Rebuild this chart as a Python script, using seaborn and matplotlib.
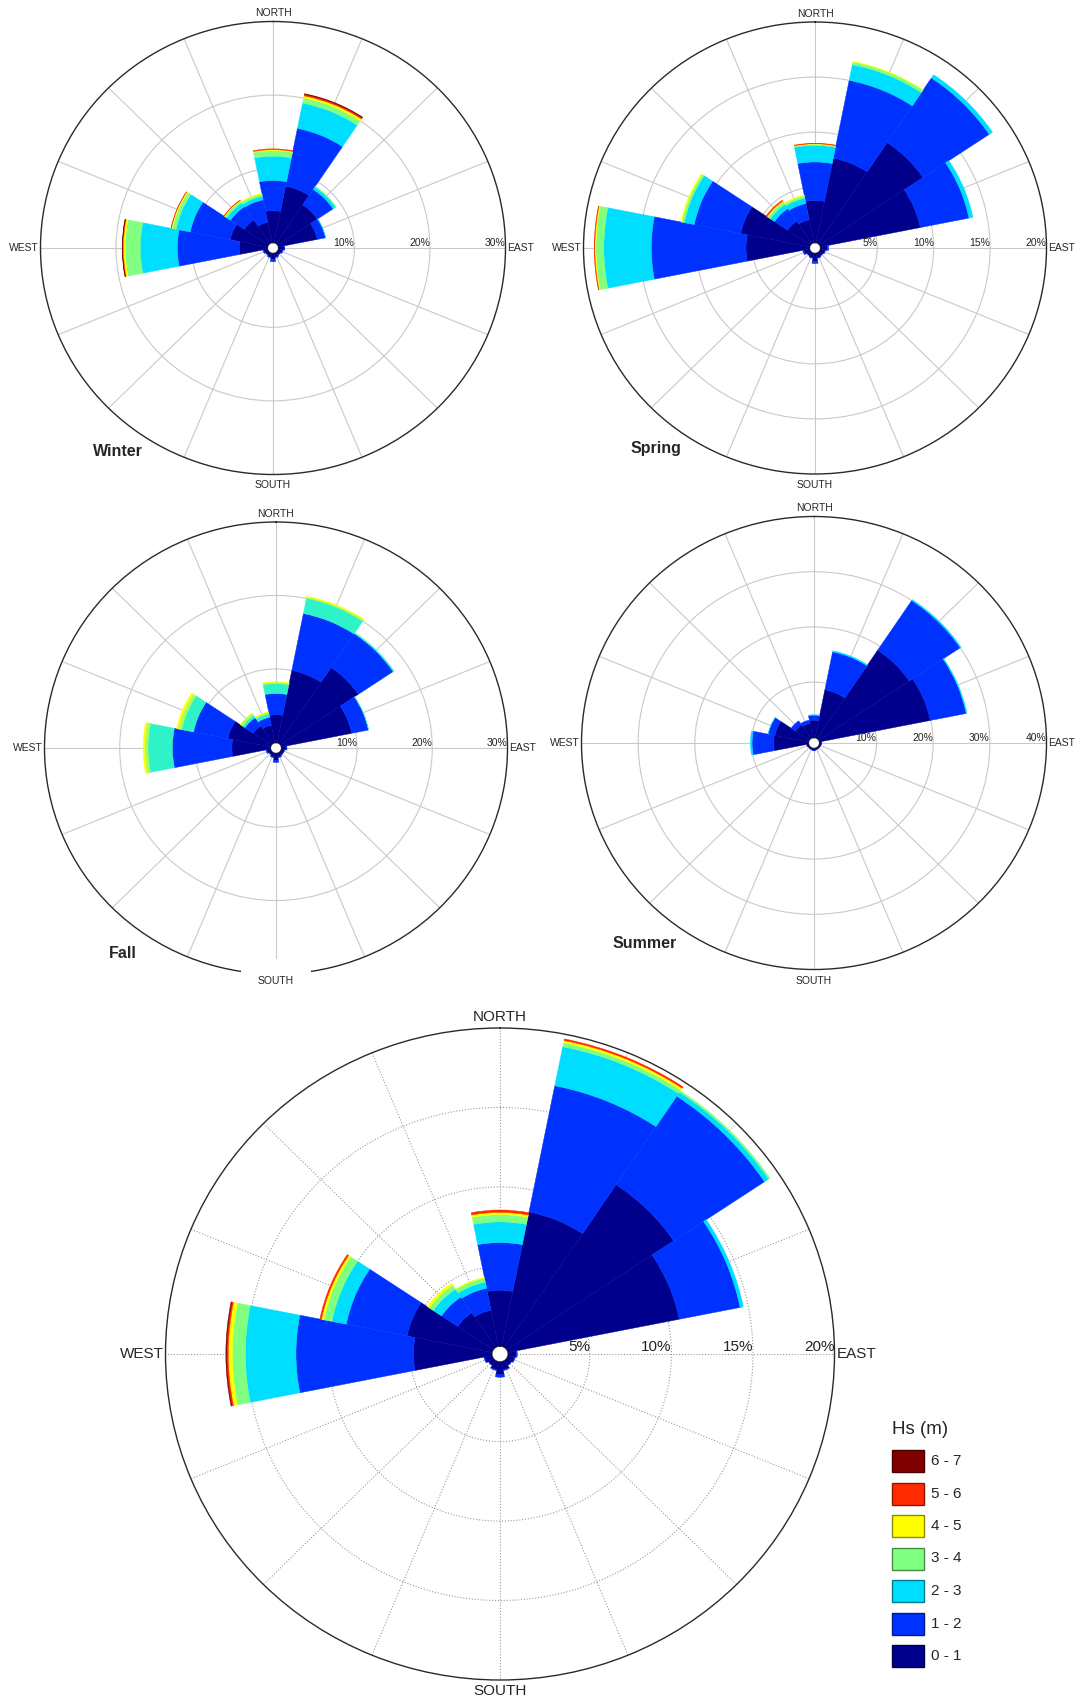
import numpy as np
import matplotlib
matplotlib.use("Agg")
import matplotlib.pyplot as plt
from matplotlib.patches import Rectangle
from matplotlib.colors import to_rgb
import seaborn as sns

# ---------------------------------------------------------------- data
DIRECTIONS = ["N", "NNE", "NE", "ENE", "E", "ESE", "SE", "SSE",
              "S", "SSW", "SW", "WSW", "W", "WNW", "NW", "NNW"]
HS_CLASSES = ["0 - 1", "1 - 2", "2 - 3", "3 - 4", "4 - 5", "5 - 6", "6 - 7"]
HS_COLORS = ["#00008C", "#0032FF", "#00DEFF", "#80FF80", "#FFFF00", "#FF2A00", "#800000"]
FALL_COLORS = ["#00008C", "#0032FF", "#2EF2C8", "#A8FF5A", "#FFFF00", "#FF2A00", "#800000"]

# occurrence frequency (%) per direction; one row per Hs class (0-1 ... 6-7 m)
WINTER = [
    [4.3, 7.8, 6.3, 5.2, 0.7, 0.5, 0.4, 0.5, 0.8, 0.5, 0.4, 0.5, 3.7, 5.0, 3.8, 2.8],
    [4.1, 8.0, 2.5, 1.1, 0.1, 0.1, 0.0, 0.1, 0.3, 0.1, 0.0, 0.1, 8.2, 5.4, 2.2, 3.1],
    [3.3, 3.5, 0.4, 0.05, 0, 0, 0, 0, 0, 0, 0, 0, 4.9, 1.9, 0.6, 0.5],
    [0.75, 0.7, 0.1, 0, 0, 0, 0, 0, 0, 0, 0, 0, 2.0, 0.5, 0.3, 0.3],
    [0.15, 0.3, 0, 0, 0, 0, 0, 0, 0, 0, 0, 0, 0.25, 0.15, 0.1, 0.1],
    [0.1, 0.2, 0, 0, 0, 0, 0, 0, 0, 0, 0, 0, 0.1, 0.05, 0.05, 0],
    [0, 0.1, 0, 0, 0, 0, 0, 0, 0, 0, 0, 0, 0.05, 0, 0, 0],
]
SPRING = [
    [3.8, 7.8, 11.0, 9.0, 0.6, 0.4, 0.35, 0.4, 0.7, 0.4, 0.35, 0.5, 5.6, 6.2, 2.4, 2.1],
    [3.5, 7.2, 7.05, 4.4, 0.1, 0.05, 0, 0.05, 0.2, 0.05, 0, 0.1, 8.4, 4.2, 1.4, 1.5],
    [1.5, 1.45, 0.35, 0.35, 0, 0, 0, 0, 0, 0, 0, 0, 4.2, 0.9, 0.45, 0.5],
    [0.1, 0.25, 0, 0, 0, 0, 0, 0, 0, 0, 0, 0, 0.7, 0.2, 0.25, 0.2],
    [0.05, 0.05, 0, 0, 0, 0, 0, 0, 0, 0, 0, 0, 0.1, 0.1, 0.1, 0.1],
    [0.05, 0, 0, 0, 0, 0, 0, 0, 0, 0, 0, 0, 0.05, 0, 0.1, 0],
    [0, 0, 0, 0, 0, 0, 0, 0, 0, 0, 0, 0, 0, 0, 0, 0],
]
FALL = [
    [3.75, 10.0, 12.4, 9.5, 0.6, 0.4, 0.4, 0.5, 0.9, 0.5, 0.35, 0.5, 5.1, 5.75, 2.85, 2.4],
    [2.9, 7.9, 5.55, 2.25, 0.1, 0, 0, 0.1, 0.3, 0.1, 0, 0.1, 7.9, 4.65, 1.35, 1.1],
    [1.35, 2.1, 0.15, 0.05, 0, 0, 0, 0, 0, 0, 0, 0, 3.25, 1.6, 0.4, 0.5],
    [0.2, 0.2, 0, 0, 0, 0, 0, 0, 0, 0, 0, 0, 0.45, 0.45, 0.3, 0.2],
    [0.05, 0.1, 0, 0, 0, 0, 0, 0, 0, 0, 0, 0, 0.2, 0.25, 0.05, 0.05],
    [0, 0, 0, 0, 0, 0, 0, 0, 0, 0, 0, 0, 0, 0, 0, 0],
    [0, 0, 0, 0, 0, 0, 0, 0, 0, 0, 0, 0, 0, 0, 0, 0],
]
SUMMER = [
    [3.1, 8.8, 19.2, 19.9, 0.35, 0.25, 0.2, 0.25, 0.35, 0.25, 0.2, 0.3, 6.1, 6.0, 2.9, 2.6],
    [0.9, 7.0, 10.8, 6.45, 0, 0, 0, 0, 0.05, 0, 0, 0, 3.8, 1.2, 0.9, 0.6],
    [0.1, 0.2, 0.2, 0.15, 0, 0, 0, 0, 0, 0, 0, 0, 0.3, 0.05, 0, 0],
    [0, 0, 0, 0, 0, 0, 0, 0, 0, 0, 0, 0, 0, 0, 0, 0],
    [0, 0, 0, 0, 0, 0, 0, 0, 0, 0, 0, 0, 0, 0, 0, 0],
    [0, 0, 0, 0, 0, 0, 0, 0, 0, 0, 0, 0, 0, 0, 0, 0],
    [0, 0, 0, 0, 0, 0, 0, 0, 0, 0, 0, 0, 0, 0, 0, 0],
]
ANNUAL = [
    [3.5, 8.6, 12.3, 10.7, 0.5, 0.4, 0.35, 0.5, 0.8, 0.5, 0.35, 0.45, 4.8, 5.3, 2.6, 2.3],
    [3.0, 8.1, 6.7, 3.8, 0.05, 0.05, 0, 0.05, 0.15, 0.05, 0, 0.05, 7.2, 3.8, 1.2, 1.4],
    [1.3, 2.5, 0.3, 0.2, 0, 0, 0, 0, 0, 0, 0, 0, 3.1, 0.9, 0.6, 0.4],
    [0.45, 0.25, 0.1, 0, 0, 0, 0, 0, 0, 0, 0, 0, 0.8, 0.5, 0.3, 0.25],
    [0.15, 0.15, 0, 0, 0, 0, 0, 0, 0, 0, 0, 0, 0.25, 0.15, 0.15, 0.05],
    [0.15, 0.1, 0, 0, 0, 0, 0, 0, 0, 0, 0, 0, 0.1, 0.1, 0, 0],
    [0, 0, 0, 0, 0, 0, 0, 0, 0, 0, 0, 0, 0.05, 0, 0, 0],
]

# ---------------------------------------------------------------- style
sns.set_theme(style="white")
plt.rcParams["font.family"] = ["Liberation Sans", "DejaVu Sans"]

W_PX, H_PX = 1086, 1702
fig = plt.figure(figsize=(W_PX / 100, H_PX / 100), dpi=100)
fig.patch.set_facecolor("white")

HOLE_FRAC = 0.025
THETA = np.deg2rad(np.arange(len(DIRECTIONS)) * 22.5)
SECTOR = np.deg2rad(22.5)


def px_rect(cx, cy, rx, ry):
    return [(cx - rx) / W_PX, 1 - (cy + ry) / H_PX, 2 * rx / W_PX, 2 * ry / H_PX]


def draw_rose(center, rx, ry, data, vmax, step, colors, fs, big=False):
    ax = fig.add_axes(px_rect(center[0], center[1], rx, ry), projection="polar")
    ax.set_aspect("auto")
    ax.set_theta_zero_location("N")
    ax.set_theta_direction(-1)
    ax.set_ylim(0, vmax)
    ax.set_rorigin(-HOLE_FRAC * vmax / (1 - HOLE_FRAC))
    ax.set_facecolor("white")

    pal = sns.color_palette(colors)
    bottom = np.zeros(len(DIRECTIONS))
    for vals, col in zip(data, pal):
        vals = np.asarray(vals, dtype=float)
        m = vals > 0
        if m.any():
            ax.bar(THETA[m], vals[m], width=SECTOR, bottom=bottom[m], color=col,
                   edgecolor=col, linewidth=0.3, align="center", zorder=3)
        bottom += vals

    rings = np.arange(step, vmax + 0.001, step)
    ax.set_xticks(THETA)
    ax.set_xticklabels([])
    ax.set_yticks(rings[:-1])
    ax.set_yticklabels([])
    ax.tick_params(length=0, pad=0)
    if big:
        ax.grid(True, color="#9a9a9a", linestyle=(0, (1, 1.6)), linewidth=0.8)
    else:
        ax.grid(True, color="#c9c9c9", linestyle="-", linewidth=0.8)
    ax.set_axisbelow(True)
    ax.spines["polar"].set_color("#2a2a2a")
    ax.spines["polar"].set_linewidth(1.0)
    for k in ("inner", "start", "end"):
        if k in ax.spines:
            ax.spines[k].set_visible(False)

    for v in rings:
        ax.annotate(f"{v:g}%", xy=(np.pi / 2, v), xytext=(0, 0), textcoords="offset points",
                    ha="right", va="bottom", fontsize=fs, color="#222222",
                    annotation_clip=False, zorder=5)

    off = 3 if big else 2.5
    ax.annotate("NORTH", xy=(0, vmax), xytext=(0, off), textcoords="offset points",
                ha="center", va="bottom", fontsize=fs, annotation_clip=False)
    ax.annotate("EAST", xy=(np.pi / 2, vmax), xytext=(1.5, 0), textcoords="offset points",
                ha="left", va="center", fontsize=fs, annotation_clip=False)
    ax.annotate("WEST", xy=(3 * np.pi / 2, vmax), xytext=(-1, 0), textcoords="offset points",
                ha="right", va="center", fontsize=fs, annotation_clip=False)
    return ax


# seasonal roses
ax_w = draw_rose((273, 248), 232.5, 226.5, WINTER, 30, 10, HS_COLORS, 7.5)
ax_s = draw_rose((815, 248), 231.5, 226.0, SPRING, 20, 5, HS_COLORS, 7.5)
ax_f = draw_rose((276, 748), 231.5, 226.0, FALL, 30, 10, FALL_COLORS, 7.5)
ax_u = draw_rose((814, 743), 232.5, 226.5, SUMMER, 40, 10, HS_COLORS, 7.5)
# annual rose
ax_a = draw_rose((500, 1354), 334.5, 326.0, ANNUAL, 20, 5, HS_COLORS, 11, big=True)


def fig_text(x, y, s, **kw):
    return fig.text(x / W_PX, 1 - y / H_PX, s, **kw)


# SOUTH labels
for (cx, cy, ry) in [(273, 248, 226.5), (815, 248, 226.0), (814, 743, 226.5)]:
    fig_text(cx, cy + ry + 11, "SOUTH", ha="center", va="center", fontsize=7.5)
fig_text(276, 981, "SOUTH", ha="center", va="center", fontsize=7.5, zorder=10,
         bbox=dict(facecolor="white", edgecolor="none", boxstyle="square,pad=1.6"))
fig_text(500, 1691, "SOUTH", ha="center", va="center", fontsize=11)

# season titles
for x, y, s in [(118, 451, "Winter"), (656, 448, "Spring"),
                (123, 953, "Fall"), (645, 943, "Summer")]:
    fig_text(x, y, s, ha="center", va="center", fontsize=11.5, fontweight="bold")

# legend
fig_text(892, 1430, "Hs (m)", ha="left", va="center", fontsize=13.5)
for i, (lab, col) in enumerate(zip(HS_CLASSES[::-1], HS_COLORS[::-1])):
    top = 1450 + i * 32.5
    edge = tuple(c * 0.55 for c in to_rgb(col))
    fig.patches.append(Rectangle((892 / W_PX, 1 - (top + 22) / H_PX), 32 / W_PX, 22 / H_PX,
                                 transform=fig.transFigure, facecolor=col,
                                 edgecolor=edge, linewidth=1.0, zorder=5))
    fig_text(931, top + 11, lab, ha="left", va="center", fontsize=11)

fig.savefig("out.png", dpi=100, facecolor="white")
